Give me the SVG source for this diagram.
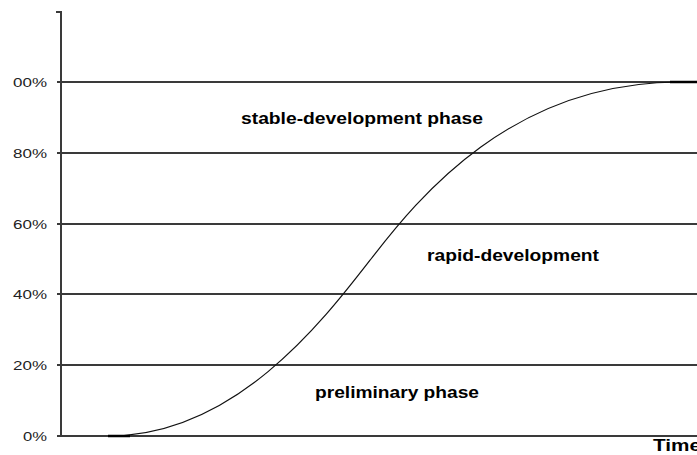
<svg xmlns="http://www.w3.org/2000/svg" width="697" height="455" viewBox="0 0 697 455">
<style>
.grid{stroke:#3a3a3a;stroke-width:2;fill:none}
.axis{stroke:#3a3a3a;stroke-width:2;fill:none}
.curve{stroke:#111;stroke-width:1.2;fill:none}
.pct{font-family:"Liberation Sans",Arial,sans-serif;font-size:13px;fill:#222;text-anchor:end}
.lbl{font-family:"Liberation Sans",Arial,sans-serif;font-size:16px;font-weight:bold;fill:#000}
</style>
<rect width="697" height="455" fill="#fff"/>
<g id="grid">
<line class="grid" x1="57" y1="82" x2="697" y2="82"/>
<line class="grid" x1="57" y1="153" x2="697" y2="153"/>
<line class="grid" x1="57" y1="224" x2="697" y2="224"/>
<line class="grid" x1="57" y1="294" x2="697" y2="294"/>
<line class="grid" x1="57" y1="365" x2="697" y2="365"/>
<line class="grid" x1="57" y1="436" x2="697" y2="436"/>
</g>
<g id="axis">
<polyline class="axis" points="56,12 61,12 61,437"/>
</g>
<g id="ticks">
<text class="pct" x="47" y="87" textLength="34" lengthAdjust="spacingAndGlyphs">00%</text>
<text class="pct" x="47" y="158" textLength="34" lengthAdjust="spacingAndGlyphs">80%</text>
<text class="pct" x="47" y="229" textLength="34" lengthAdjust="spacingAndGlyphs">60%</text>
<text class="pct" x="47" y="299" textLength="34" lengthAdjust="spacingAndGlyphs">40%</text>
<text class="pct" x="47" y="370" textLength="34" lengthAdjust="spacingAndGlyphs">20%</text>
<text class="pct" x="47" y="441" textLength="24" lengthAdjust="spacingAndGlyphs">0%</text>
</g>
<g id="connectors">
<path class="curve" d="M108,436 C235,436 323,321 371,259 C419,197 512,82 680,82 L697,82"/>
<line x1="108" y1="436" x2="130" y2="436" stroke="#000" stroke-width="2.5"/>
<line x1="670" y1="82" x2="697" y2="82" stroke="#000" stroke-width="2.5"/>
</g>
<g id="stable">
<text class="lbl" x="241" y="124" textLength="242" lengthAdjust="spacingAndGlyphs">stable-development phase</text>
</g>
<g id="rapid">
<text class="lbl" x="427" y="261" textLength="172" lengthAdjust="spacingAndGlyphs">rapid-development</text>
</g>
<g id="preliminary">
<text class="lbl" x="315" y="398" textLength="164" lengthAdjust="spacingAndGlyphs">preliminary phase</text>
</g>
<g id="time">
<text class="lbl" x="653" y="451" textLength="48" lengthAdjust="spacingAndGlyphs">Time</text>
</g>
</svg>
